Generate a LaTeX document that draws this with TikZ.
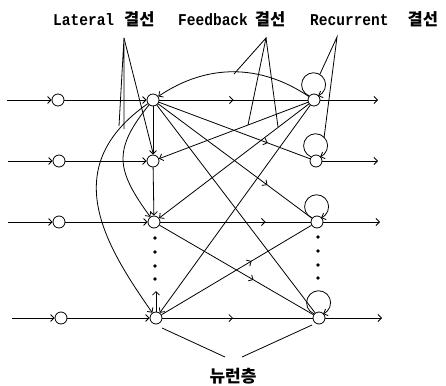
\documentclass[tikz,border=0pt]{standalone}
\usepackage{fontspec}
\newfontfamily\lbfont[FakeStretch=0.88]{Liberation Mono}
\newfontfamily\kr{Noto Sans CJK KR}
\usetikzlibrary{arrows.meta,decorations.markings}
\begin{document}
\begin{tikzpicture}[x=1pt,y=1pt,
  neuron/.style={circle,draw,line width=0.8pt,minimum size=12pt,inner sep=0pt,fill=white},
  link/.style={line width=0.8pt},
  arr/.style={link,-{Straight Barb[length=3.5pt,width=7pt]}},
  midarr/.style={link,postaction={decorate},decoration={markings,mark=at position #1 with {\arrow{Straight Barb[length=3.5pt,width=7pt]}}}},
  dotmark/.style={circle,fill,inner sep=0pt,minimum size=3.6pt},
  ptr/.style={line width=0.8pt},
  lbl/.style={font=\lbfont\bfseries\fontsize{16.5}{18}\selectfont,inner sep=0pt,anchor=base west},
  krlbl/.style={font=\kr\bfseries\fontsize{16.5}{18}\selectfont},
]
\useasboundingbox (0,0) rectangle (446,-385);

% neurons
\node[neuron] (I1) at (58,-100) {};
\node[neuron] (I2) at (59,-161) {};
\node[neuron] (I3) at (59,-222) {};
\node[neuron] (I4) at (61,-318) {};
\node[neuron] (M1) at (153,-100) {};
\node[neuron] (M2) at (153,-161) {};
\node[neuron] (M3) at (154,-222) {};
\node[neuron] (M4) at (156,-318) {};
\node[neuron] (R1) at (314,-100) {};
\node[neuron] (R2) at (316,-161) {};
\node[neuron] (R3) at (317,-222) {};
\node[neuron] (R4) at (319,-318) {};

% dots
\foreach \y [count=\i] in {238,252,266,279} {
  \node[dotmark] (dm\i) at (155,-\y) {};
  \node[dotmark] (dr\i) at (318,-\y+1) {};
}

% input / output ends
\coordinate (S1) at (7,-100);
\coordinate (S2) at (8,-161);
\coordinate (S3) at (8,-222);
\coordinate (S4) at (12,-318);
\coordinate (O1) at (378,-100);
\coordinate (O2) at (378,-161);
\coordinate (O3) at (380,-222);
\coordinate (O4) at (382,-318);
\coordinate (U4) at (156,-291);

\foreach \i in {1,2,3,4} {
  \draw[arr] (S\i) -- (I\i);
  \draw[arr] (I\i) -- (M\i);
  \draw[arr] (R\i) -- (O\i);
}

% feedforward
\draw[midarr=0.5] (M1) -- (R1);
\draw[midarr=0.72] (M1) -- (R2);
\draw[midarr=0.71] (M1) -- (R3);
\draw[link] (M1) -- (R4);
\draw[midarr=0.7] (M3) -- (R3);
\draw[midarr=0.61] (M3) -- (R4);
\draw[midarr=0.6] (M4) -- (R3);
\draw[midarr=0.47] (M4) -- (R4);

% feedback
\draw[arr] (R1) -- (M2);
\draw[arr] (R1) -- (M3);
\draw[arr] (R1) -- (M4);
\draw[arr] (R1) to[bend right=34] (M1);

% lateral
\draw[arr] (M1) -- (M2);
\draw[arr] (M2) -- (M3);
\draw[arr] (M4) -- (U4);
\draw[arr] (M1) to[out=231,in=126,out distance=58pt,in distance=58pt] (M3);
\draw[arr] (M1) to[out=215,in=125,out distance=110pt,in distance=85pt] (M4);

% recurrent loops
\draw[arr] (R1.140) arc[start angle=248,end angle=-68,radius=12];
\draw[arr] (R2.140) arc[start angle=248,end angle=-68,radius=12];
\draw[arr] (R3.140) arc[start angle=248,end angle=-68,radius=12];
\draw[arr] (R4.140) arc[start angle=248,end angle=-68,radius=12];

% labels
\node[lbl] (tL) at (53,-26) {Lateral\hspace{10pt}{\kr\bfseries 결선}};
\node[lbl] (tF) at (178,-26) {Feedback\hspace{7pt}{\kr\bfseries 결선}};
\node[lbl] (tR) at (310,-26) {Recurrent\hspace{19pt}{\kr\bfseries 결선}};
\node[font=\kr\bfseries\fontsize{17}{18}\selectfont,inner sep=0pt] (tN) at (233,-376) {뉴런층};

% pointer lines
\coordinate (aL) at (124,-38);
\coordinate (aF) at (266,-38);
\coordinate (aR) at (337,-37);
\coordinate (pL1) at (119,-126);
\coordinate (pL2) at (124,-129);
\coordinate (pL3) at (153,-153);
\coordinate (pF1) at (234,-74);
\coordinate (pF2) at (248,-125);
\coordinate (pF3) at (278,-127);
\coordinate (pR1) at (320,-74);
\coordinate (pR2) at (324,-138);
\coordinate (nA) at (225,-357);
\coordinate (nB) at (242,-357);
\coordinate (nM) at (162,-328);
\coordinate (nR) at (312,-325);
\draw[ptr] (pL1) -- (aL) -- (pL2);
\draw[ptr] (aL) -- (pL3);
\draw[ptr] (pF1) -- (aF) -- (pF2);
\draw[ptr] (aF) -- (pF3);
\draw[ptr] (pR1) -- (aR) -- (pR2);
\draw[ptr] (nM) -- (nA);
\draw[ptr] (nR) -- (nB);
\end{tikzpicture}
\end{document}
